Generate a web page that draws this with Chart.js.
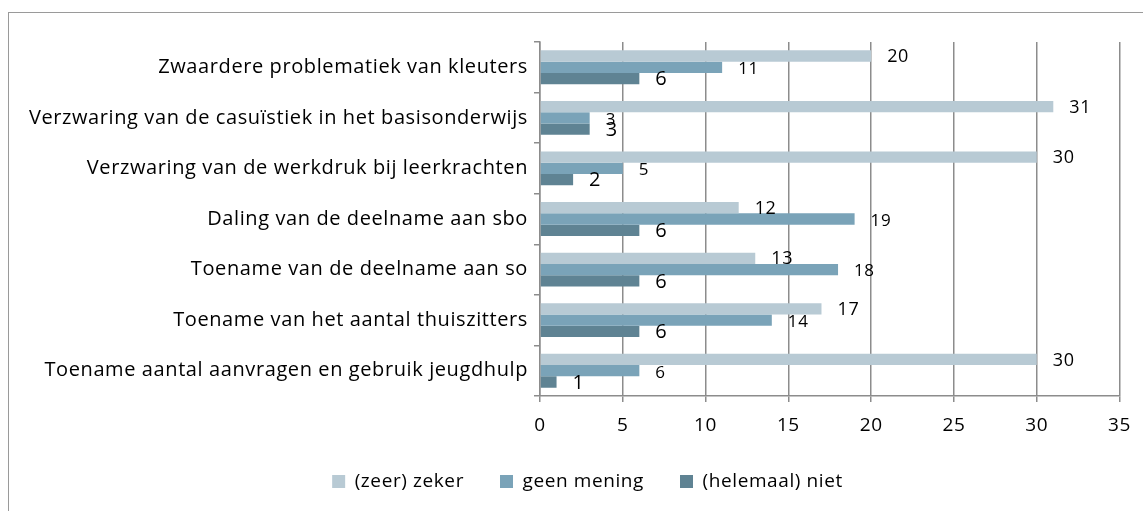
<!DOCTYPE html>
<html>
<head>
<meta charset="utf-8">
<script src="https://cdn.jsdelivr.net/npm/chart.js@4.4.0/dist/chart.umd.min.js"></script>
<style>
html,body{margin:0;padding:0;background:#fff;}
#wrap{position:absolute;left:0;top:0;width:1143px;height:511px;}
#frame{position:absolute;left:8px;top:12px;width:1140px;height:505px;border-left:1px solid #9a9a9a;border-top:1px solid #9a9a9a;}
</style>
</head>
<body>
<div id="frame"></div>
<div id="wrap"><canvas id="c" width="1143" height="511"></canvas></div>
<script>
const categories = [
  "Zwaardere problematiek van kleuters",
  "Verzwaring van de casuïstiek in het basisonderwijs",
  "Verzwaring van de werkdruk bij leerkrachten",
  "Daling van de deelname aan sbo",
  "Toename van de deelname aan so",
  "Toename van het aantal thuiszitters",
  "Toename aantal aanvragen en gebruik jeugdhulp"
];
const seriesNames = ["(zeer) zeker", "geen mening", "(helemaal) niet"];
const zeerZeker = [20, 31, 30, 12, 13, 17, 30];
const geenMening = [11, 3, 5, 19, 18, 14, 6];
const helemaalNiet = [6, 3, 2, 6, 6, 6, 1];
const xTicks = [0, 5, 10, 15, 20, 25, 30, 35];

const colors = ["#B8CAD4", "#7AA3B8", "#5F8393"];
const FONT = "'Open Sans', sans-serif";
const SPACING = '0.6px';
const labelSizes = [18, 17, 20];
const labelDy = [1, 2, 1];

const spacingPlugin = {
  id: 'spacing',
  beforeUpdate(chart) { chart.ctx.letterSpacing = SPACING; },
  beforeLayout(chart) { chart.ctx.letterSpacing = SPACING; },
  afterLayout(chart) {
    if (chart.legend) { chart.legend.left += 27; chart.legend.right += 27; }
  },
  beforeDraw(chart) { chart.ctx.letterSpacing = SPACING; }
};

const labelPlugin = {
  id: 'barLabels',
  afterDatasetsDraw(chart) {
    const ctx = chart.ctx;
    ctx.save();
    ctx.fillStyle = '#000';
    ctx.textBaseline = 'middle';
    ctx.textAlign = 'left';
    chart.data.datasets.forEach((ds, di) => {
      const meta = chart.getDatasetMeta(di);
      ctx.font = labelSizes[di] + 'px ' + FONT;
      meta.data.forEach((bar, i) => {
        ctx.fillText(String(ds.data[i]), bar.x + 16, bar.y + labelDy[di]);
      });
    });
    ctx.restore();
  }
};

new Chart(document.getElementById('c'), {
  type: 'bar',
  data: {
    labels: categories,
    datasets: [
      { label: seriesNames[0], data: zeerZeker, backgroundColor: colors[0] },
      { label: seriesNames[1], data: geenMening, backgroundColor: colors[1] },
      { label: seriesNames[2], data: helemaalNiet, backgroundColor: colors[2] }
    ]
  },
  options: {
    indexAxis: 'y',
    responsive: false,
    animation: false,
    devicePixelRatio: 1,
    layout: { padding: { left: 0, right: 22, top: 42, bottom: 10 } },
    datasets: { bar: { categoryPercentage: 0.67, barPercentage: 1.0 } },
    scales: {
      x: {
        min: 0, max: 35,
        afterBuildTicks(scale) { scale.ticks = xTicks.map(v => ({ value: v })); },
        grid: { color: '#8c8c8c', lineWidth: 1.5, tickLength: 6, drawTicks: true },
        border: { color: '#8c8c8c', width: 1.5 },
        ticks: { color: '#000', font: { family: FONT, size: 19 }, padding: 12 },
        afterFit(scale) { scale.height = 40; }
      },
      y: {
        grid: { display: true, drawOnChartArea: false, offset: true, color: '#8c8c8c', lineWidth: 1.5, tickLength: 6 },
        border: { color: '#8c8c8c', width: 1.5 },
        ticks: { color: '#000', font: { family: FONT, size: 20 }, padding: 6 },
        afterFit(scale) { scale.width = 540; }
      }
    },
    plugins: {
      legend: {
        position: 'bottom',
        labels: { color: '#000', font: { family: FONT, size: 19 }, boxWidth: 13, boxHeight: 13, padding: 36 }
      },
      tooltip: { enabled: false }
    }
  },
  plugins: [spacingPlugin, labelPlugin]
});
</script>
</body>
</html>
